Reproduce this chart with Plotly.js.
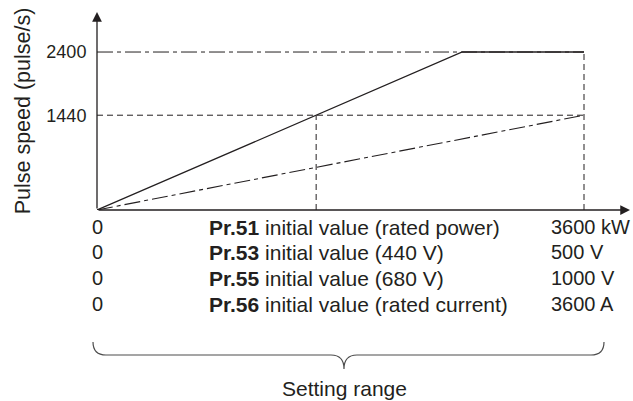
<!DOCTYPE html>
<html>
<head>
<meta charset="utf-8">
<script src="https://cdn.plot.ly/plotly-3.0.1.min.js"></script>
<style>html,body{margin:0;padding:0;background:#fff;}#chart{width:633px;height:401px;}</style>
</head>
<body>
<div id="chart"></div>
<script>
// ---- data ----
const yTickVals = [1440, 2400];
const yTickText = ['1440', '2400'];
const axisMaxKW = 3600;            // Pr.51 setting range end (kW)
const initialValueKW = 1620;       // Pr.51 initial value position
const ratedX = [0, 2700, 3600];    // solid line: Pr.51 = initial value
const ratedY = [0, 2400, 2400];
const maxX = [0, 3600];            // dash-dot line: Pr.51 = 3600 kW
const maxY = [0, 1440];
const rowMin = ['0', '0', '0', '0'];
const rowParam = ['Pr.51', 'Pr.53', 'Pr.55', 'Pr.56'];
const rowDesc = ['initial value (rated power)', 'initial value (440 V)', 'initial value (680 V)', 'initial value (rated current)'];
const rowMax = ['3600 kW', '500 V', '1000 V', '3600 A'];

const INK = '#231f20';
const FONT = 'Liberation Sans, Arial, sans-serif';

// plot area pixels
const L = 97, T = 12, R = 630, B = 210;
const px = X => (X - L) / (R - L);
const py = Y => (B - Y) / (B - T);

const traces = [
  {x: [0, axisMaxKW], y: [yTickVals[1], yTickVals[1]], mode: 'lines', line: {color: INK, width: 1, dash: '16px,4px,4px,4px'}, hoverinfo: 'skip'},
  {x: [0, axisMaxKW], y: [yTickVals[0], yTickVals[0]], mode: 'lines', line: {color: INK, width: 1, dash: '6px,4px'}, hoverinfo: 'skip'},
  {x: [initialValueKW, initialValueKW], y: [0, yTickVals[0]], mode: 'lines', line: {color: INK, width: 1, dash: '6px,4px'}, hoverinfo: 'skip'},
  {x: [axisMaxKW, axisMaxKW], y: [0, yTickVals[1]], mode: 'lines', line: {color: INK, width: 1, dash: '6px,4px'}, hoverinfo: 'skip'},
  {x: maxX, y: maxY, mode: 'lines', line: {color: INK, width: 1.1, dash: '16px,4px,4px,4px'}, hoverinfo: 'skip'},
  {x: ratedX, y: ratedY, mode: 'lines', line: {color: INK, width: 1.3}, hoverinfo: 'skip'}
];

const xMax = 3940, yMax = 3008;

const annotations = [
  {x: xMax, y: 0, ax: 0, ay: 0, axref: 'x', ayref: 'y', xref: 'x', yref: 'y', text: '', showarrow: true, arrowhead: 2, arrowsize: 1.5, arrowwidth: 1.3, arrowcolor: INK, standoff: 0},
  {x: 0, y: yMax, ax: 0, ay: 0, axref: 'x', ayref: 'y', xref: 'x', yref: 'y', text: '', showarrow: true, arrowhead: 2, arrowsize: 1.5, arrowwidth: 1.3, arrowcolor: INK, standoff: 0}
];
const rowY = [227, 252.5, 278, 304];
for (let i = 0; i < rowParam.length; i++) {
  annotations.push({xref: 'x', yref: 'paper', x: 0, y: py(rowY[i]), xanchor: 'center', yanchor: 'middle', text: rowMin[i], showarrow: false, font: {family: FONT, size: 20, color: INK}});
  annotations.push({xref: 'paper', yref: 'paper', x: px(207), y: py(rowY[i]), xanchor: 'left', yanchor: 'middle', text: '<b>' + rowParam[i] + '</b> ' + rowDesc[i], showarrow: false, font: {family: FONT, size: 21, color: INK}});
  annotations.push({xref: 'paper', yref: 'paper', x: px(549), y: py(rowY[i]), xanchor: 'left', yanchor: 'middle', text: rowMax[i], showarrow: false, font: {family: FONT, size: 20, color: INK}});
}
annotations.push({xref: 'paper', yref: 'paper', x: px(344), y: py(388), xanchor: 'center', yanchor: 'middle', text: 'Setting range', showarrow: false, font: {family: FONT, size: 21, color: INK}});

function P(X, Y) { return px(X).toFixed(5) + ',' + py(Y).toFixed(5); }
const bracePath = 'M' + P(93, 342) + ' Q' + P(93, 355) + ' ' + P(106, 355) + ' L' + P(331, 355) +
  ' Q' + P(344, 355) + ' ' + P(344, 369) + ' Q' + P(344, 355) + ' ' + P(357, 355) + ' L' + P(591, 355) +
  ' Q' + P(604, 355) + ' ' + P(604, 342);

const layout = {
  width: 633, height: 401,
  margin: {l: L, r: 633 - R, t: T, b: 401 - B, pad: 0},
  paper_bgcolor: '#fff', plot_bgcolor: '#fff',
  showlegend: false,
  font: {family: FONT, color: INK},
  xaxis: {range: [0, xMax], showgrid: false, zeroline: false, showline: false, showticklabels: false, ticks: '', fixedrange: true},
  yaxis: {range: [0, yMax], showgrid: false, zeroline: false, showline: false, tickvals: yTickVals, ticktext: yTickText,
    ticks: 'outside', ticklen: 6, tickcolor: 'rgba(0,0,0,0)', tickfont: {family: FONT, size: 18, color: INK},
    title: {text: 'Pulse speed (pulse/s)', font: {family: FONT, size: 21.5, color: INK}, standoff: 9}, automargin: false, fixedrange: true},
  annotations: annotations,
  shapes: [{type: 'path', xref: 'paper', yref: 'paper', path: bracePath, line: {color: '#4d4d4d', width: 1.2}}]
};

Plotly.newPlot('chart', traces, layout, {displayModeBar: false, staticPlot: true});
</script>
</body>
</html>
